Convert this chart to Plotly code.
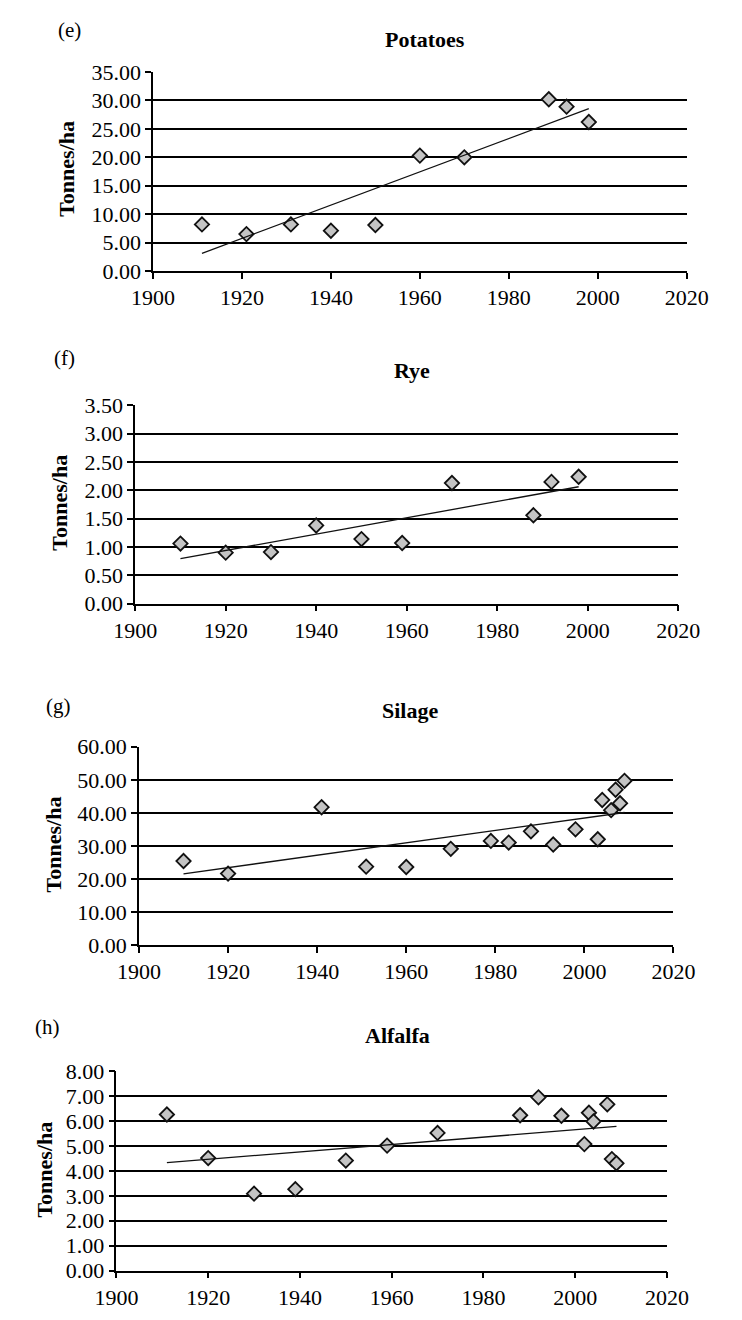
import numpy as np
import plotly.graph_objects as go

# ---------------- data ----------------
potato_years = [1911, 1921, 1931, 1940, 1950, 1960, 1970, 1989, 1993, 1998]
potato_yield = [8.2, 6.5, 8.2, 7.1, 8.1, 20.3, 20.0, 30.2, 28.9, 26.2]

rye_years = [1910, 1920, 1930, 1940, 1950, 1959, 1970, 1988, 1992, 1998]
rye_yield = [1.06, 0.90, 0.91, 1.38, 1.14, 1.07, 2.13, 1.56, 2.15, 2.24]

silage_years = [1910, 1920, 1941, 1951, 1960, 1970, 1979, 1983, 1988, 1993,
                1998, 2003, 2004, 2006, 2007, 2008, 2009]
silage_yield = [25.4, 21.6, 41.7, 23.7, 23.6, 29.1, 31.5, 31.0, 34.4, 30.4,
                35.0, 32.0, 43.9, 40.8, 47.0, 42.9, 49.7]

alfalfa_years = [1911, 1920, 1930, 1939, 1950, 1959, 1970, 1988, 1992, 1997,
                 2002, 2003, 2004, 2007, 2008, 2009]
alfalfa_yield = [6.27, 4.52, 3.09, 3.27, 4.42, 5.02, 5.53, 6.24, 6.96, 6.22,
                 5.08, 6.34, 5.99, 6.68, 4.48, 4.31]

panel_titles = ["Potatoes", "Rye", "Silage", "Alfalfa"]
panel_letters = ["(e)", "(f)", "(g)", "(h)"]
y_max = [35, 3.5, 60, 8]
y_step = [5, 0.5, 10, 1]
x_ticks = [1900, 1920, 1940, 1960, 1980, 2000, 2020]

series = [(potato_years, potato_yield), (rye_years, rye_yield),
          (silage_years, silage_yield), (alfalfa_years, alfalfa_yield)]

# ---------------- layout geometry (page pixels) ----------------
PAGE_MARGIN = 8                      # default <body> margin of the html page
W, H = 742 - 2 * PAGE_MARGIN, 1320 - 2 * PAGE_MARGIN
# (left, right, top, bottom) of each plot area, in page pixels
boxes = [(139, 707, 61, 264), (120, 698, 401, 603),
         (124, 693, 749, 951), (100, 686, 1080, 1283)]
title_pos = [(429, 28), (415, 365), (413, 712), (399, 1043)]
letter_pos = [(50, 18), (45, 353), (38, 707), (27, 1035)]
ylab_pos = [(46, 160), (40, 500), (33, 848), (24, 1180)]

FONT = "Liberation Serif"

fig = go.Figure()
annotations = []
layout = {}


def px(x):
    return (x - PAGE_MARGIN) / W


def py(y):
    return 1 - (y - PAGE_MARGIN) / H


for i, ((xs, ys), box) in enumerate(zip(series, boxes)):
    n = "" if i == 0 else str(i + 1)
    xa, ya = "x" + n, "y" + n
    l, r, t, b = box
    fig.add_trace(go.Scatter(
        x=xs, y=ys, mode="markers", xaxis=xa, yaxis=ya,
        marker=dict(symbol="diamond", size=11, color="#c4c4c4",
                    line=dict(color="#111111", width=1.8)),
        showlegend=False, hoverinfo="x+y"))
    coef = np.polyfit(xs, ys, 1)
    tx = [min(xs), max(xs)]
    ty = [coef[0] * v + coef[1] for v in tx]
    fig.add_trace(go.Scatter(
        x=tx, y=ty, mode="lines", xaxis=xa, yaxis=ya,
        line=dict(color="#111111", width=1.3),
        showlegend=False, hoverinfo="skip"))

    layout["xaxis" + n] = dict(
        domain=[px(l), px(r)], anchor=ya, range=[1900, 2020],
        tickvals=x_ticks, ticktext=[str(v) for v in x_ticks],
        ticks="outside", ticklen=6, tickwidth=1.5, tickcolor="black",
        showline=True, linecolor="black", linewidth=1.5,
        showgrid=False, zeroline=False,
        tickfont=dict(family=FONT, size=22, color="black"))
    yt = list(np.round(np.arange(0, y_max[i] + y_step[i] / 2, y_step[i]), 2))
    layout["yaxis" + n] = dict(
        domain=[py(b), py(t)], anchor=xa, range=[0, y_max[i]],
        tickvals=yt, ticktext=[f"{v:.2f}" for v in yt],
        ticks="outside", ticklen=6, tickwidth=1.5, tickcolor="black",
        showline=True, linecolor="black", linewidth=1.5,
        showgrid=True, gridcolor="black", gridwidth=1.5, zeroline=False,
        tickfont=dict(family=FONT, size=22, color="black"))

    annotations.append(dict(
        text="<b>" + panel_titles[i] + "</b>", x=px(title_pos[i][0]), y=py(title_pos[i][1]),
        xref="paper", yref="paper", xanchor="center", yanchor="middle",
        showarrow=False, font=dict(family=FONT, size=22, color="black")))
    annotations.append(dict(
        text=panel_letters[i], x=px(letter_pos[i][0]), y=py(letter_pos[i][1]),
        xref="paper", yref="paper", xanchor="center", yanchor="middle",
        showarrow=False, font=dict(family=FONT, size=21, color="black")))
    annotations.append(dict(
        text="<b>Tonnes/ha</b>", x=px(ylab_pos[i][0]), y=py(ylab_pos[i][1]),
        xref="paper", yref="paper", xanchor="center", yanchor="middle",
        textangle=-90, showarrow=False,
        font=dict(family=FONT, size=22, color="black")))

fig.update_layout(
    width=W, height=H, margin=dict(l=0, r=0, t=0, b=0),
    paper_bgcolor="white", plot_bgcolor="white",
    annotations=annotations, **layout)

fig.write_html("out.html")
